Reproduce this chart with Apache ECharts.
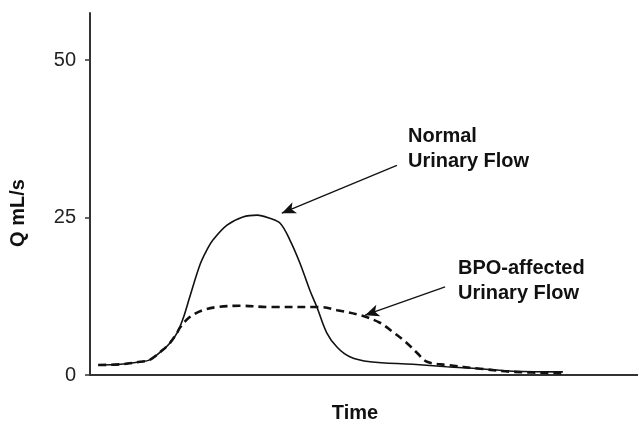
<!DOCTYPE html>
<html>
<head>
<meta charset="utf-8">
<script src="https://cdn.jsdelivr.net/npm/echarts@6/dist/echarts.min.js"></script>
<style>
  html, body { margin: 0; padding: 0; background: #fff; }
  #chart { width: 638px; height: 423px; }
</style>
</head>
<body>
<div id="chart"></div>
<script>
// values (time in arbitrary units, Q in mL/s)
const normalTime = [1.5, 5.5, 9.1, 10.9, 13.3, 14.6, 15.9, 17.0, 18.2, 20.1, 21.4, 22.4, 25.0, 27.9, 30.5, 32.8, 34.7, 36.5, 38.3, 40.1, 41.4, 43.2, 45.1, 47.4, 51.1, 58.9, 65.1, 71.2, 77.2, 86.3];
const normalFlow = [1.6, 1.7, 2.1, 2.4, 4.0, 5.1, 6.7, 9.0, 12.4, 17.6, 20.0, 21.4, 23.8, 25.1, 25.4, 24.9, 24.1, 21.4, 17.8, 13.5, 10.8, 6.7, 4.4, 2.9, 2.1, 1.7, 1.3, 1.0, 0.6, 0.5];

const bpoTime = [1.5, 5.5, 9.1, 10.9, 13.3, 14.6, 15.9, 16.4, 18.2, 20.6, 23.2, 27.4, 32.8, 42.0, 45.1, 49.3, 52.9, 55.3, 57.8, 59.7, 61.5, 65.1, 71.2, 77.2, 86.3];
const bpoFlow = [1.6, 1.7, 2.1, 2.4, 4.0, 5.1, 6.7, 7.5, 9.2, 10.3, 10.8, 11.0, 10.8, 10.8, 10.3, 9.5, 8.3, 6.8, 5.1, 3.5, 2.1, 1.6, 1.0, 0.5, 0.3];

const yTicks = [0, 25, 50];

const font = '"Liberation Sans", Arial, sans-serif';
const ink = '#111';

const zip = (xs, ys) => xs.map((x, i) => [x, ys[i]]);

const chart = echarts.init(document.getElementById('chart'));

const arrow = (from, to) => [{ coord: from }, { coord: to }];

chart.setOption({
  animation: false,
  grid: { left: 90, right: 0, top: 13, bottom: 48, containLabel: false, outerBoundsMode: 'none' },
  xAxis: {
    type: 'value',
    min: 0,
    max: 100,
    name: 'Time',
    nameLocation: 'middle',
    nameGap: 28,
    nameTextStyle: { fontFamily: font, fontSize: 20, fontWeight: 'bold', color: ink, padding: [0, 18, 0, 0] },
    axisLine: { show: true, lineStyle: { color: '#333', width: 2 } },
    axisTick: { show: false },
    axisLabel: { show: false },
    splitLine: { show: false }
  },
  yAxis: {
    type: 'value',
    min: 0,
    max: 57.5,
    name: 'Q mL/s',
    nameLocation: 'middle',
    nameGap: 62,
    nameTextStyle: { fontFamily: font, fontSize: 20, fontWeight: 'bold', color: ink, padding: [0, 38, 0, 0] },
    axisLine: { show: true, lineStyle: { color: '#333', width: 2 } },
    axisTick: { show: true, length: 5, customValues: yTicks, lineStyle: { color: '#333', width: 1.5 } },
    axisLabel: { customValues: yTicks, margin: 14, fontFamily: font, fontSize: 20, color: '#222' },
    splitLine: { show: false }
  },
  graphic: [
    { type: 'text', x: 408, y: 136, style: { text: 'Normal', font: 'bold 20px ' + font, fill: ink, verticalAlign: 'middle' } },
    { type: 'text', x: 408, y: 161, style: { text: 'Urinary Flow', font: 'bold 20px ' + font, fill: ink, verticalAlign: 'middle' } },
    { type: 'text', x: 458, y: 268, style: { text: 'BPO-affected', font: 'bold 20px ' + font, fill: ink, verticalAlign: 'middle' } },
    { type: 'text', x: 458, y: 293, style: { text: 'Urinary Flow', font: 'bold 20px ' + font, fill: ink, verticalAlign: 'middle' } }
  ],
  series: [
    {
      name: 'Normal Urinary Flow',
      type: 'line',
      smooth: 0.35,
      showSymbol: false,
      data: zip(normalTime, normalFlow),
      lineStyle: { color: ink, width: 1.6 },
      markLine: {
        silent: true,
        symbol: ['none', 'arrow'],
        symbolSize: [9, 14],
        label: { show: false },
        lineStyle: { color: ink, width: 1.3, type: 'solid' },
        data: [arrow([56.0, 33.3], [35.0, 25.7])]
      },
      z: 3
    },
    {
      name: 'BPO-affected Urinary Flow',
      type: 'line',
      smooth: 0.35,
      showSymbol: false,
      data: zip(bpoTime, bpoFlow),
      lineStyle: { color: ink, width: 2.6, type: [8, 5] },
      markLine: {
        silent: true,
        symbol: ['none', 'arrow'],
        symbolSize: [9, 14],
        label: { show: false },
        lineStyle: { color: ink, width: 1.3, type: 'solid' },
        data: [arrow([64.8, 14.0], [50.2, 9.5])]
      },
      z: 2
    }
  ]
});
</script>
</body>
</html>
